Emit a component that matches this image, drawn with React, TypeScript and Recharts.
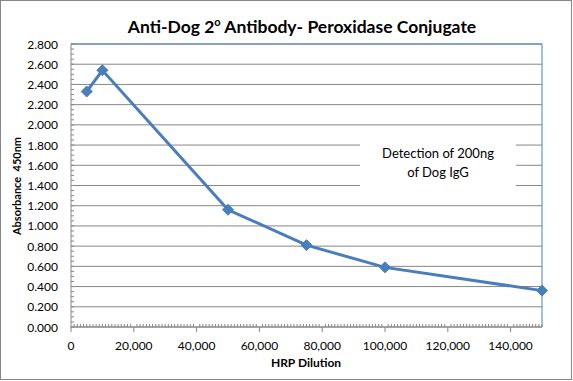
import {
  CartesianGrid,
  Line,
  LineChart,
  ReferenceLine,
  XAxis,
  YAxis,
} from "recharts";

const dilution = [5000, 10000, 50000, 75000, 100000, 150000];
const absorbance = [2.33, 2.54, 1.16, 0.81, 0.59, 0.36];

const xMajorTicks = [0, 20000, 40000, 60000, 80000, 100000, 120000, 140000];
const yMajorTicks = [0, 0.2, 0.4, 0.6, 0.8, 1.0, 1.2, 1.4, 1.6, 1.8, 2.0, 2.2, 2.4, 2.6, 2.8];

// minor tick marks (Excel style): every 1,000 on x, every 0.05 on y
const xMinorTicks = Array.from({ length: 151 }, (_, i) => i * 1000);
const yMinorTicks = Array.from({ length: 57 }, (_, i) => Math.round(i * 5) / 100);

const data = dilution.map((d, i) => ({ dilution: d, absorbance: absorbance[i] }));

const BLUE = "#4A7EBB";
const GRAY = "#868686";
const FONT = "Lato, 'Open Sans', sans-serif";

function isMajorX(v: number) {
  return xMajorTicks.includes(v);
}

function isMajorY(v: number) {
  return yMajorTicks.some((t) => Math.abs(t - v) < 1e-6);
}

function XTick(props: any) {
  const { x, y, payload } = props;
  const v = payload.value as number;
  if (isMajorX(v)) {
    return (
      <g>
        <line x1={x} x2={x} y1={y} y2={y + 5} stroke={GRAY} />
        <text
          x={x}
          y={y + 18}
          textAnchor="middle"
          dominantBaseline="central"
          fontSize={12}
          fontFamily={FONT}
          fill="#000"
        >
          {v.toLocaleString("en-US")}
        </text>
      </g>
    );
  }
  return <line x1={x} x2={x} y1={y} y2={y - 3} stroke={GRAY} />;
}

function YTick(props: any) {
  const { x, y, payload } = props;
  const v = payload.value as number;
  return (
    <g>
      <line x1={x} x2={x + 3} y1={y} y2={y} stroke={GRAY} />
      {isMajorY(v) && (
        <text
          x={x - 13}
          y={y}
          textAnchor="end"
          dominantBaseline="central"
          fontSize={12}
          fontFamily={FONT}
          fill="#000"
        >
          {v.toFixed(3)}
        </text>
      )}
    </g>
  );
}

function Diamond(props: any) {
  const { cx, cy, index } = props;
  const r = 5.5;
  return (
    <path
      key={index}
      d={`M${cx},${cy - r} L${cx + r},${cy} L${cx},${cy + r} L${cx - r},${cy} Z`}
      fill={BLUE}
      stroke={BLUE}
    />
  );
}

export default function App() {
  return (
    <div
      style={{
        position: "absolute",
        left: 0,
        top: 0,
        width: 573,
        height: 381,
        background: "#fff",
        fontFamily: FONT,
      }}
    >
      <div
        style={{
          position: "absolute",
          left: 0,
          top: 0,
          width: 572,
          height: 380,
          boxSizing: "border-box",
          border: `1px solid ${GRAY}`,
        }}
      />
      <div
        style={{
          position: "absolute",
          left: 102,
          width: 400,
          top: 15,
          textAlign: "center",
          fontSize: 17.5,
          fontWeight: 700,
          color: "#000",
          whiteSpace: "nowrap",
        }}
      >
        Anti-Dog 2<sup style={{ fontSize: 11 }}>o</sup> Antibody- Peroxidase Conjugate
      </div>

      <LineChart
        width={573}
        height={381}
        data={data}
        margin={{ top: 44, right: 31, bottom: 0, left: 0 }}
      >
        <CartesianGrid
          vertical={false}
          horizontalValues={yMajorTicks}
          stroke={GRAY}
          strokeDasharray=""
        />
        <XAxis
          dataKey="dilution"
          type="number"
          domain={[0, 150000]}
          ticks={xMinorTicks}
          interval={0}
          height={54}
          tickSize={0}
          tickMargin={0}
          tickLine={false}
          axisLine={{ stroke: GRAY }}
          tick={XTick}
        />
        <YAxis
          type="number"
          domain={[0, 2.8]}
          ticks={yMinorTicks}
          interval={0}
          width={71}
          tickSize={0}
          tickMargin={0}
          tickLine={false}
          axisLine={{ stroke: GRAY }}
          tick={YTick}
        />
        <ReferenceLine y={2.8} stroke={BLUE} />
        <ReferenceLine x={150000} stroke={BLUE} />
        <Line
          type="linear"
          dataKey="absorbance"
          stroke={BLUE}
          strokeWidth={3}
          dot={Diamond}
          activeDot={false}
          isAnimationActive={false}
        />
      </LineChart>

      <div
        style={{
          position: "absolute",
          left: 360,
          top: 130,
          width: 156,
          height: 65,
          background: "#fff",
          display: "flex",
          flexDirection: "column",
          justifyContent: "center",
          alignItems: "center",
          fontSize: 13,
          lineHeight: "19px",
          color: "#000",
          textAlign: "center",
        }}
      >
        <div>Detection of 200ng</div>
        <div>of Dog IgG</div>
      </div>

      <div
        style={{
          position: "absolute",
          left: 16,
          top: 186,
          transform: "translate(-50%, -50%) rotate(-90deg)",
          fontSize: 11,
          fontWeight: 700,
          whiteSpace: "nowrap",
          color: "#000",
        }}
      >
        Absorbance&nbsp; 450nm
      </div>
      <div
        style={{
          position: "absolute",
          left: 306,
          top: 362,
          transform: "translate(-50%, -50%)",
          fontSize: 12,
          fontWeight: 700,
          whiteSpace: "nowrap",
          color: "#000",
        }}
      >
        HRP Dilution
      </div>
    </div>
  );
}
